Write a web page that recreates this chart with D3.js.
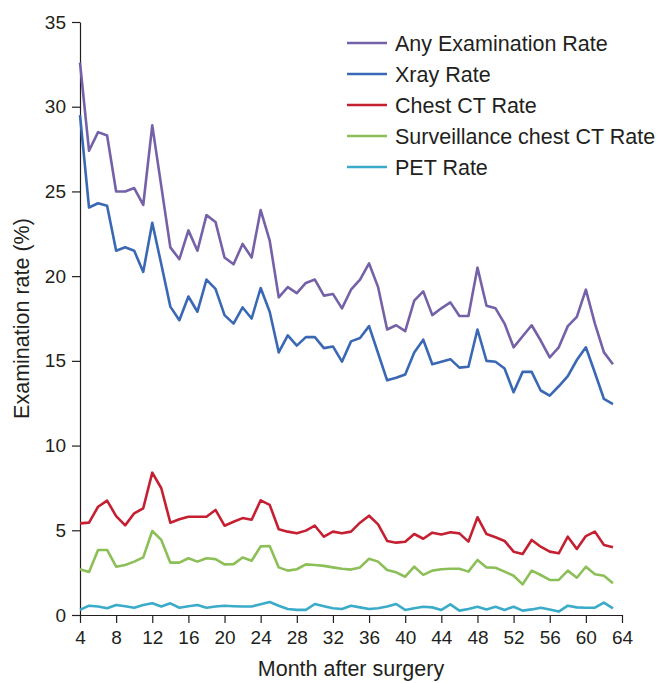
<!DOCTYPE html>
<html>
<head>
<meta charset="utf-8">
<script src="https://cdn.jsdelivr.net/npm/d3@7"></script>
<style>
  body { margin: 0; background: #fff; }
  text { font-family: "Liberation Sans", Arial, sans-serif; fill: #231f20; }
  .axis path, .axis line { stroke: #231f20; stroke-width: 1.2; }
  .line { fill: none; stroke-width: 2.6; stroke-linejoin: round; }
</style>
</head>
<body>
<div id="chart"></div>
<script>
const months = d3.range(4, 64); // 4..63

const anyExam = [32.6, 27.4, 28.5, 28.3, 25.0, 25.0, 25.2, 24.2, 28.9, 25.3,
  21.7, 21.0, 22.7, 21.5, 23.6, 23.2, 21.1, 20.7, 21.9, 21.1,
  23.9, 22.1, 18.75, 19.35, 19.0, 19.6, 19.8, 18.85, 18.95, 18.1,
  19.2, 19.8, 20.75, 19.35, 16.85, 17.1, 16.75, 18.55, 19.1, 17.7,
  18.1, 18.45, 17.65, 17.65, 20.5, 18.25, 18.1, 17.2, 15.8, 16.45,
  17.1, 16.2, 15.2, 15.8, 17.05, 17.6, 19.2, 17.2, 15.5, 14.8];

const xray = [29.5, 24.05, 24.3, 24.15, 21.5, 21.7, 21.5, 20.25, 23.15, 20.7,
  18.2, 17.4, 18.8, 17.9, 19.8, 19.25, 17.7, 17.2, 18.15, 17.5,
  19.3, 17.9, 15.5, 16.5, 15.9, 16.4, 16.4, 15.75, 15.85, 14.95,
  16.15, 16.35, 17.05, 15.45, 13.85, 14.0, 14.2, 15.5, 16.25, 14.8,
  14.95, 15.1, 14.6, 14.65, 16.85, 15.0, 14.95, 14.55, 13.15, 14.35,
  14.35, 13.25, 12.95, 13.5, 14.1, 15.05, 15.8, 14.3, 12.75, 12.45];

const chestCT = [5.41, 5.45, 6.39, 6.75, 5.84, 5.29, 6.0, 6.3, 8.4, 7.48,
  5.45, 5.65, 5.8, 5.8, 5.8, 6.2, 5.27, 5.5, 5.72, 5.62,
  6.77, 6.5, 5.06, 4.92, 4.82, 4.98, 5.27, 4.62, 4.92, 4.82,
  4.92, 5.45, 5.86, 5.35, 4.37, 4.27, 4.32, 4.78, 4.5, 4.86,
  4.75, 4.88, 4.82, 4.33, 5.77, 4.78, 4.59, 4.37, 3.74, 3.6,
  4.43, 4.03, 3.74, 3.64, 4.62, 3.9, 4.66, 4.92, 4.13, 4.0];

const survCT = [2.7, 2.54, 3.84, 3.84, 2.85, 2.95, 3.15, 3.4, 4.96, 4.43,
  3.09, 3.09, 3.35, 3.15, 3.35, 3.3, 2.99, 3.0, 3.39, 3.2,
  4.05, 4.07, 2.81, 2.62, 2.7, 2.99, 2.95, 2.9, 2.81, 2.73,
  2.68, 2.81, 3.32, 3.15, 2.66, 2.52, 2.26, 2.85, 2.37, 2.62,
  2.7, 2.73, 2.73, 2.56, 3.25, 2.81, 2.79, 2.56, 2.32, 1.81,
  2.62, 2.36, 2.07, 2.07, 2.62, 2.2, 2.85, 2.4, 2.32, 1.87];

const pet = [0.3, 0.55, 0.5, 0.4, 0.59, 0.52, 0.43, 0.59, 0.69, 0.5,
  0.69, 0.43, 0.52, 0.59, 0.43, 0.5, 0.55, 0.52, 0.5, 0.5,
  0.64, 0.77, 0.55, 0.35, 0.3, 0.3, 0.65, 0.52, 0.4, 0.35,
  0.55, 0.45, 0.35, 0.4, 0.5, 0.65, 0.3, 0.4, 0.49, 0.45,
  0.3, 0.63, 0.26, 0.35, 0.49, 0.33, 0.49, 0.3, 0.49, 0.26,
  0.33, 0.43, 0.33, 0.2, 0.55, 0.45, 0.43, 0.43, 0.73, 0.39];

const seriesNames = ["Any Examination Rate", "Xray Rate", "Chest CT Rate",
  "Surveillance chest CT Rate", "PET Rate"];
const seriesValues = [anyExam, xray, chestCT, survCT, pet];
const colors = ["#7561a8", "#3a68b4", "#c51f32", "#8cbf58", "#3babca"];

const xTicks = d3.range(4, 65, 4);
const yTicks = d3.range(0, 36, 5);

var margin = { top: 22, right: 37, bottom: 68, left: 80 },
  width = 659 - margin.left - margin.right,
  height = 683 - margin.top - margin.bottom;

var svg = d3.select("#chart")
  .append("svg")
  .attr("width", 659)
  .attr("height", 683)
  .append("g")
  .attr("transform", "translate(" + margin.left + "," + margin.top + ")");

var xScale = d3.scaleLinear().domain([4, 64]).range([0, width]);
var yScale = d3.scaleLinear().domain([0, 35]).range([height, 0]);

// axes
var xAxis = svg.append("g")
  .attr("class", "axis")
  .attr("transform", "translate(0," + height + ")")
  .call(d3.axisBottom(xScale).tickValues(xTicks).tickSize(8).tickSizeOuter(0).tickPadding(8));
xAxis.selectAll("text").style("font-size", "19px");

var yAxis = svg.append("g")
  .attr("class", "axis")
  .call(d3.axisLeft(yScale).tickValues(yTicks).tickSize(8).tickSizeOuter(0).tickPadding(6));
yAxis.selectAll("text").style("font-size", "19px");

svg.append("text")
  .attr("x", width / 2)
  .attr("y", height + 61)
  .attr("text-anchor", "middle")
  .style("font-size", "21.5px")
  .text("Month after surgery");

svg.append("text")
  .attr("transform", "rotate(-90)")
  .attr("x", -height / 2)
  .attr("y", -51)
  .attr("text-anchor", "middle")
  .style("font-size", "21.5px")
  .text("Examination rate (%)");

// lines
var line = d3.line()
  .x(function (d) { return xScale(d.x); })
  .y(function (d) { return yScale(d.y); });

seriesValues.slice().reverse().forEach(function (vals, ri) {
  var i = seriesValues.length - 1 - ri;
  var dataset = months.map(function (m, j) { return { x: m, y: vals[j] }; });
  svg.append("path")
    .datum(dataset)
    .attr("class", "line")
    .attr("stroke", colors[i])
    .attr("d", line);
});

// legend
var legend = svg.append("g").attr("transform", "translate(267,21)");
seriesNames.forEach(function (name, i) {
  var g = legend.append("g").attr("transform", "translate(0," + (i * 31) + ")");
  g.append("line")
    .attr("x1", 0).attr("x2", 40)
    .attr("y1", 0).attr("y2", 0)
    .attr("stroke", colors[i])
    .attr("stroke-width", 2.6);
  g.append("text")
    .attr("x", 48)
    .attr("y", 0)
    .attr("dy", "0.35em")
    .style("font-size", "21.5px")
    .text(name);
});
</script>
</body>
</html>
